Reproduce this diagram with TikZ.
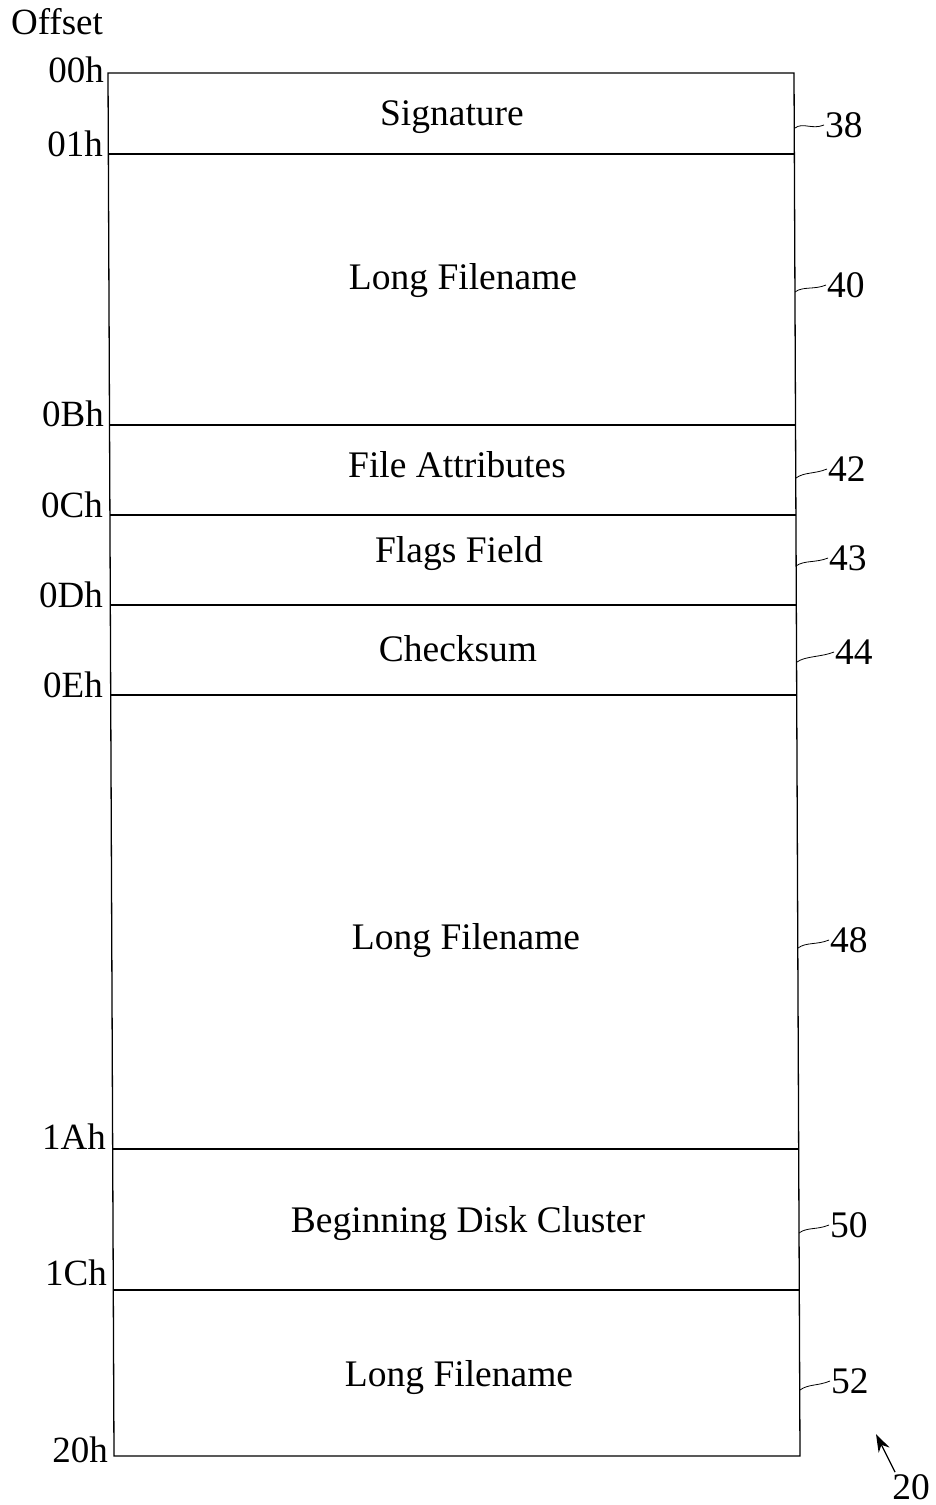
\documentclass[tikz,border=0pt]{standalone}
\usepackage{fontspec}
\setmainfont{Liberation Serif}
\usetikzlibrary{arrows.meta, positioning, calc}

\tikzset{
  fieldtext/.style={font=\fontsize{37.5}{40}\selectfont},
  offsettext/.style={anchor=base east, inner sep=0pt, font=\fontsize{37}{40}\selectfont},
  reftext/.style={anchor=west, inner sep=1pt, font=\fontsize{37.5}{40}\selectfont},
  leader/.style={line width=0.8pt},
  rowline/.style={line width=1.1pt}
}

\begin{document}
\begin{tikzpicture}[x=1pt,y=-1pt]
  \path[use as bounding box] (0,0) rectangle (936,1505);

  % outer frame (slightly skewed, as scanned)
  \draw[line width=1.3pt] (108,73) -- (794,73) -- (800,1456) -- (114,1456) -- cycle;

  % field boundaries
  \draw[rowline] (108.4,154) -- (794.4,154);
  \draw[rowline] (109.5,425) -- (795.5,425);
  \draw[rowline] (109.9,515) -- (795.9,515);
  \draw[rowline] (110.3,605) -- (796.3,605);
  \draw[rowline] (110.7,695) -- (796.7,695);
  \draw[rowline] (112.7,1149) -- (798.7,1149);
  \draw[rowline] (113.3,1290) -- (799.3,1290);

  % field names
  \node[fieldtext] (sig)   at (452,117)  {Signature};
  \node[fieldtext] (lfn1)  at (463,281)  {Long Filename};
  \node[fieldtext] (attr)  at (457,465)  {File Attributes};
  \node[fieldtext] (flags) at (459,554)  {Flags Field};
  \node[fieldtext] (csum)  at (458,649)  {Checksum};
  \node[fieldtext] (lfn2)  at (466,941)  {Long Filename};
  \node[fieldtext] (clus)  at (468,1224) {Beginning Disk Cluster};
  \node[fieldtext] (lfn3)  at (459,1378) {Long Filename};

  % offsets
  \node[font=\fontsize{37}{40}\selectfont] (offset) at (57,22) {Offset};
  \node[offsettext] (o00) at (104,82)   {00h};
  \node[offsettext] (o01) at (103,156)  {01h};
  \node[offsettext] (o0B) at (104,426)  {0Bh};
  \node[offsettext] (o0C) at (103,517)  {0Ch};
  \node[offsettext] (o0D) at (103,607)  {0Dh};
  \node[offsettext] (o0E) at (103,697)  {0Eh};
  \node[offsettext] (o1A) at (106,1149) {1Ah};
  \node[offsettext] (o1C) at (107,1285) {1Ch};
  \node[offsettext] (o20) at (108,1462) {20h};

  % reference numerals
  \coordinate (e38) at (795,128);
  \coordinate (e40) at (795,292);
  \coordinate (e42) at (796,478);
  \coordinate (e43) at (796,566);
  \coordinate (e44) at (797,662);
  \coordinate (e48) at (798,948);
  \coordinate (e50) at (799,1233);
  \coordinate (e52) at (800,1390);
  \node[reftext] (r38) at (824,125)  {38};
  \node[reftext] (r40) at (826,285)  {40};
  \node[reftext] (r42) at (827,469)  {42};
  \node[reftext] (r43) at (828,558)  {43};
  \node[reftext] (r44) at (834,652)  {44};
  \node[reftext] (r48) at (829,940)  {48};
  \node[reftext] (r50) at (829,1225) {50};
  \node[reftext] (r52) at (830,1381) {52};
  \foreach \n in {38,40,42,43,44,48,50,52}
    \draw[leader] (e\n) .. controls ++(8,-6) and ($(r\n.west)+(-12,5)$) .. (r\n.west);

  % figure numeral
  \node[reftext, anchor=center] (r20) at (911,1487) {20};
  \coordinate (p20) at (876,1434);
  \draw[line width=1.3pt, -{Stealth[length=18pt,width=12pt]}] ($(r20.north west)+(4,-1)$) -- (p20);
\end{tikzpicture}
\end{document}
